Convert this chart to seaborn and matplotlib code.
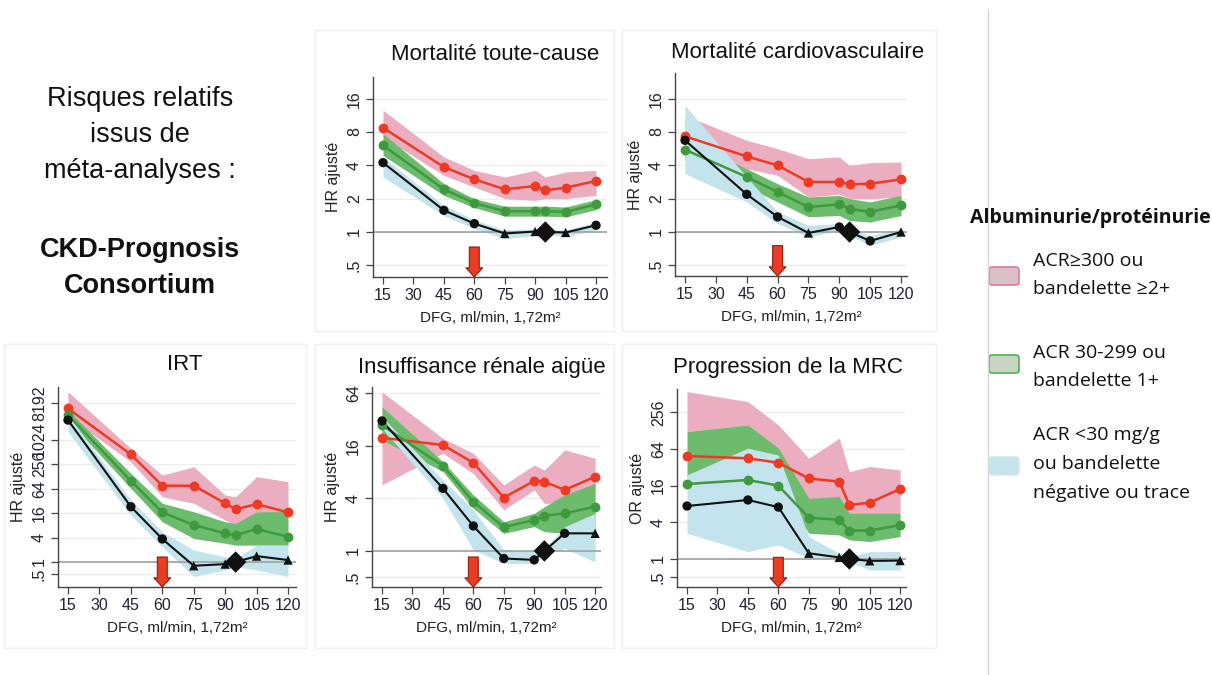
import numpy as np
import pandas as pd
import seaborn as sns
import matplotlib.pyplot as plt
import matplotlib.transforms as mtransforms
from matplotlib.patches import Rectangle, FancyBboxPatch

sns.set_theme(style="white")
plt.rcParams['font.family'] = ['Liberation Sans', 'DejaVu Sans']

# DFG categories (x axis) and tick labels
dfg = [15, 45, 60, 75, 90, 95, 105, 120]
x_ticks = [15, 30, 45, 60, 75, 90, 105, 120]

# --- Mortalite toute-cause ---
mort_red = [8.75, 3.86, 2.99, 2.43, 2.60, 2.38, 2.51, 2.89]
mort_red_lo = [7.2, 3.25, 2.55, 2.0, 1.93, 2.0, 2.0, 2.14]
mort_red_hi = [12.6, 4.76, 3.6, 3.14, 3.6, 3.14, 3.48, 3.6]
mort_green = [6.06, 2.43, 1.83, 1.54, 1.54, 1.54, 1.52, 1.78]
mort_green_lo = [4.92, 2.14, 1.66, 1.39, 1.39, 1.39, 1.37, 1.59]
mort_green_hi = [7.73, 2.73, 2.0, 1.71, 1.71, 1.71, 1.68, 1.96]
mort_black = [4.23, 1.57, 1.19, 0.97, 1.01, 1.0, 0.99, 1.15]
mort_blue_lo = [3.14, 1.41, 1.07, 0.87, 0.93, 0.95, 0.91, 1.04]
mort_blue_hi = [4.76, 1.74, 1.29, 1.04, 1.07, 1.05, 1.04, 1.23]
mort_mk = ['o', 'o', 'o', '^', '^', 'D', '^', 'o']

# --- Mortalite cardiovasculaire ---
cv_red = [7.31, 4.82, 4.0, 2.83, 2.83, 2.69, 2.73, 2.99]
cv_red_lo = [6.06, 3.73, 3.25, 2.07, 2.19, 2.0, 2.0, 2.07]
cv_red_hi = [11.3, 6.73, 5.66, 4.59, 4.76, 4.0, 4.23, 4.29]
cv_green = [5.54, 3.14, 2.3, 1.68, 1.78, 1.62, 1.52, 1.74]
cv_green_lo = [4.44, 2.55, 1.87, 1.37, 1.41, 1.27, 1.23, 1.41]
cv_green_hi = [6.73, 3.73, 2.73, 2.07, 2.14, 2.0, 1.87, 2.14]
cv_black = [6.73, 2.19, 1.37, 0.98, 1.11, 1.0, 0.83, 1.0]
cv_blue_lo = [3.36, 1.87, 1.19, 0.9, 1.04, 0.93, 0.76, 0.9]
cv_blue_hi = [13.9, 3.14, 1.52, 1.15, 1.19, 1.07, 0.93, 1.07]
cv_mk = ['o', 'o', 'o', '^', 'o', 'D', 'o', '^']

# --- IRT ---
irt_red = [6040, 446, 75.6, 75.6, 27.9, 19.8, 26.7, 16.7]
irt_red_lo = [3770, 294, 40.5, 27.9, 10.8, 8.1, 17.3, 15.8]
irt_red_hi = [15500, 626, 138, 221, 44.6, 40.5, 126, 95]
irt_green = [4150, 100, 16.7, 8.1, 5.1, 4.6, 6.5, 4.2]
irt_green_lo = [3120, 65, 9.8, 3.8, 2.9, 2.6, 2.6, 2.6]
irt_green_hi = [5500, 152, 27.9, 17.3, 9.8, 8.9, 17.3, 17.3]
irt_black = [3120, 23, 3.7, 0.81, 0.89, 1.0, 1.4, 1.12]
irt_blue_lo = [1610, 14.3, 2.38, 0.44, 0.64, 0.77, 0.64, 0.44]
irt_blue_hi = [4150, 33.6, 5.6, 1.97, 1.36, 1.23, 2.6, 2.6]
irt_mk = ['o', 'o', 'o', '^', '^', 'D', '^', '^']

# --- Insuffisance renale aigue ---
ira_red = [19.7, 16.3, 10.2, 4.08, 6.32, 6.19, 4.99, 7.06]
ira_red_lo = [5.7, 13.1, 7.7, 2.95, 4.99, 3.5, 3.5, 5.4]
ira_red_hi = [66, 19.4, 13.1, 5.7, 9.6, 8.4, 14.3, 11.5]
ira_green = [27.5, 9.4, 3.66, 1.87, 2.26, 2.53, 2.69, 3.21]
ira_green_lo = [18.6, 8.1, 3.07, 1.59, 1.9, 1.66, 1.59, 1.46]
ira_green_hi = [44.6, 10.5, 4.37, 2.16, 2.69, 3.21, 4.37, 5.94]
ira_black = [30.7, 5.2, 1.93, 0.82, 0.79, 1.0, 1.59, 1.59]
ira_blue_lo = [25.3, 4.0, 1.03, 0.72, 0.72, 0.9, 1.07, 0.75]
ira_blue_hi = [34.3, 6.5, 2.95, 1.03, 0.98, 1.07, 1.9, 2.69]
ira_mk = ['o', 'o', 'o', 'o', 'o', 'D', 'o', '^']

# --- Progression de la MRC ---
mrc_red = [49, 45, 38, 21, 18.6, 7.7, 8.4, 14.1]
mrc_red_lo = [124, 159, 62, 8.2, 10.6, 5.0, 5.0, 5.6]
mrc_red_hi = [560, 383, 159, 45, 96, 27, 33, 29]
mrc_green = [17, 19.8, 16, 4.76, 4.38, 2.93, 2.93, 3.6]
mrc_green_lo = [22.5, 25.5, 14.4, 2.64, 2.48, 2.06, 1.93, 2.33]
mrc_green_hi = [124, 159, 66, 9.9, 10.6, 5.6, 5.6, 5.6]
mrc_black = [7.4, 9.3, 7.1, 1.24, 1.06, 1.0, 0.93, 0.94]
mrc_blue_lo = [2.64, 1.32, 1.7, 1.03, 0.97, 0.9, 0.66, 0.66]
mrc_blue_hi = [24, 66, 51, 2.33, 1.24, 1.09, 1.32, 1.32]
mrc_mk = ['o', 'o', 'o', '^', '^', 'D', '^', '^']

RED, GREEN, BLACK = '#ee3a23', '#3d9a3d', '#111111'
PINK_BAND, GREEN_BAND, BLUE_BAND = '#ebadc0', '#6dbb6d', '#c3e3ed'

W, H = 1212, 675
fig = plt.figure(figsize=(W / 100, H / 100), dpi=100)

# background overlay in pixel coordinates
bg = fig.add_axes([0, 0, 1, 1])
bg.set_xlim(0, W)
bg.set_ylim(H, 0)
bg.axis('off')


def px_rect(l, t, r, b):
    return [l / W, 1 - b / H, (r - l) / W, (b - t) / H]


panels = [
    dict(title='Mortalité toute-cause', tpos=(495, 55), box=(315, 30, 614, 331),
         rect=(373, 77, 607, 277), xlim=(10.07, 125.4), ylim=(-1.35, 4.65),
         yt=[0.5, 1, 2, 4, 8, 16], yl=['.5', '1', '2', '4', '8', '16'], ylab='HR ajusté',
         red=mort_red, red_lo=mort_red_lo, red_hi=mort_red_hi,
         green=mort_green, green_lo=mort_green_lo, green_hi=mort_green_hi,
         black=mort_black, blue_lo=mort_blue_lo, blue_hi=mort_blue_hi, mk=mort_mk),
    dict(title='Mortalité cardiovasculaire', tpos=(798, 53), box=(622, 30, 936, 331),
         rect=(675, 73, 907, 276), xlim=(10.14, 122.9), ylim=(-1.32, 4.77),
         yt=[0.5, 1, 2, 4, 8, 16], yl=['.5', '1', '2', '4', '8', '16'], ylab='HR ajusté',
         red=cv_red, red_lo=cv_red_lo, red_hi=cv_red_hi,
         green=cv_green, green_lo=cv_green_lo, green_hi=cv_green_hi,
         black=cv_black, blue_lo=cv_blue_lo, blue_hi=cv_blue_hi, mk=cv_mk),
    dict(title='IRT', tpos=(185, 365), box=(4, 344, 306, 648),
         rect=(58, 387, 296, 587), xlim=(10.23, 123.8), ylim=(-2.04, 14.31),
         yt=[0.5, 1, 4, 16, 64, 256, 1024, 8192],
         yl=['.5', '1', '4', '16', '64', '256', '1024', '8192'], ylab='HR ajusté',
         red=irt_red, red_lo=irt_red_lo, red_hi=irt_red_hi,
         green=irt_green, green_lo=irt_green_lo, green_hi=irt_green_hi,
         black=irt_black, blue_lo=irt_blue_lo, blue_hi=irt_blue_hi, mk=irt_mk),
    dict(title='Insuffisance rénale aigüe', tpos=(482, 367), box=(315, 344, 614, 648),
         rect=(372, 387, 601, 587), xlim=(10.07, 122.9), ylim=(-1.37, 6.23),
         yt=[0.5, 1, 4, 16, 64], yl=['.5', '1', '4', '16', '64'], ylab='HR ajusté',
         red=ira_red, red_lo=ira_red_lo, red_hi=ira_red_hi,
         green=ira_green, green_lo=ira_green_lo, green_hi=ira_green_hi,
         black=ira_black, blue_lo=ira_blue_lo, blue_hi=ira_blue_hi, mk=ira_mk),
    dict(title='Progression de la MRC', tpos=(788, 367), box=(622, 344, 936, 648),
         rect=(677, 389, 906, 587), xlim=(10.07, 122.9), ylim=(-1.53, 9.27),
         yt=[0.5, 1, 4, 16, 64, 256], yl=['.5', '1', '4', '16', '64', '256'], ylab='OR ajusté',
         red=mrc_red, red_lo=mrc_red_lo, red_hi=mrc_red_hi,
         green=mrc_green, green_lo=mrc_green_lo, green_hi=mrc_green_hi,
         black=mrc_black, blue_lo=mrc_blue_lo, blue_hi=mrc_blue_hi, mk=mrc_mk),
]

for p in panels:
    l, t, r, b = p['box']
    bg.add_patch(Rectangle((l, t), r - l, b - t, fill=False, ec='#efefef', lw=1))
    bg.text(p['tpos'][0], p['tpos'][1], p['title'], ha='center', va='center',
            fontsize=16, color='#111111')

    ax = fig.add_axes(px_rect(*p['rect']))
    ax.set_facecolor('none')
    ax.set_yscale('log', base=2)

    ax.fill_between(dfg, p['red_lo'], p['red_hi'], color=PINK_BAND, lw=0, zorder=1)
    ax.fill_between(dfg, p['green_lo'], p['green_hi'], color=GREEN_BAND, lw=0, zorder=1.1)
    ax.fill_between(dfg, p['blue_lo'], p['blue_hi'], color=BLUE_BAND, lw=0, zorder=1.2)
    ax.axhline(1, color='#9a9a9a', lw=1.1, zorder=1.5)

    sns.lineplot(x=dfg, y=p['red'], ax=ax, color=RED, lw=1.8, zorder=3)
    sns.lineplot(x=dfg, y=p['green'], ax=ax, color=GREEN, lw=1.8, zorder=3)
    sns.lineplot(x=dfg, y=p['black'], ax=ax, color=BLACK, lw=1.5, zorder=3)
    sns.scatterplot(x=dfg, y=p['red'], ax=ax, color=RED, s=50, lw=0, zorder=4)
    sns.scatterplot(x=dfg, y=p['green'], ax=ax, color=GREEN, s=50, lw=0, zorder=4)
    blk = pd.DataFrame({'dfg': dfg, 'hr': p['black'], 'mk': p['mk']})
    sns.scatterplot(data=blk, x='dfg', y='hr', style='mk', size='mk', ax=ax,
                    markers={'o': 'o', '^': '^', 'D': 'D'},
                    sizes={'o': 45, '^': 45, 'D': 120},
                    color=BLACK, lw=0, zorder=4, legend=False)

    ax.set_xlim(*p['xlim'])
    ax.set_ylim(2 ** p['ylim'][0], 2 ** p['ylim'][1])
    ax.minorticks_off()
    ax.set_xticks(x_ticks)
    ax.set_xticklabels([str(v) for v in x_ticks], fontsize=11.5, color='#222233')
    ax.set_yticks(p['yt'])
    ax.set_yticklabels(p['yl'], rotation=90, va='center', fontsize=11.5, color='#222233')
    ax.yaxis.grid(True, color='#ececec', lw=0.9)
    ax.set_axisbelow(True)
    for s in ['top', 'right']:
        ax.spines[s].set_visible(False)
    for s in ['left', 'bottom']:
        ax.spines[s].set_color('#444444')
        ax.spines[s].set_linewidth(1.0)
    ax.tick_params(axis='both', direction='out', length=5, width=0.9, color='#444444',
                   left=True, bottom=True, pad=3)
    ax.set_xlabel('DFG, ml/min, 1,72m²', fontsize=11, color='#222222', labelpad=6)
    ax.set_ylabel(p['ylab'], fontsize=11.5, color='#222222', labelpad=4)

    # red arrow at DFG 60
    tr = mtransforms.blended_transform_factory(ax.transData, ax.transAxes)
    ax.annotate('', xy=(60, 0.0), xycoords=tr, xytext=(60, 0.15), textcoords=tr,
                arrowprops=dict(arrowstyle='simple,head_length=0.6,head_width=1.1,tail_width=0.65',
                                mutation_scale=11, fc='#ea3b24', ec='#8c2010', lw=0.8,
                                shrinkA=0, shrinkB=0),
                zorder=6, annotation_clip=False)

# left text block
bg.text(140, 135, 'Risques relatifs\nissus de\nméta-analyses :', ha='center', va='center',
        fontsize=19.5, linespacing=1.5, color='#111111')
bg.text(140, 268, 'CKD-Prognosis\nConsortium', ha='center', va='center',
        fontsize=19.5, fontweight='bold', linespacing=1.5, color='#111111')

# separator
bg.plot([988, 988], [9, 675], color='#d6d6d6', lw=1)

# legend
lg_font = ['Open Sans', 'DejaVu Sans']
bg.text(1090, 218, 'Albuminurie/protéinurie', ha='center', va='center', fontsize=14,
        fontweight='bold', family=lg_font, color='#111111')
legend_items = [
    ('ACR≥300 ou\nbandelette ≥2+', 276, 275, '#dcc0c8', '#e07a98'),
    ('ACR 30-299 ou\nbandelette 1+', 364, 367, '#c8d4c4', '#4cb34c'),
    ('ACR <30 mg/g\nou bandelette\nnégative ou trace', 466, 464, '#c6e4ee', '#d8e8ee'),
]
for label, yc, ty, fc, ec in legend_items:
    bg.add_patch(FancyBboxPatch((989, yc - 9), 30, 18, boxstyle='round,pad=0,rounding_size=3',
                                fc=fc, ec=ec, lw=1.2))
    bg.text(1033, ty, label, ha='left', va='center', fontsize=14, family=lg_font,
            linespacing=1.75, color='#111111')

fig.savefig('out.png', dpi=100)
